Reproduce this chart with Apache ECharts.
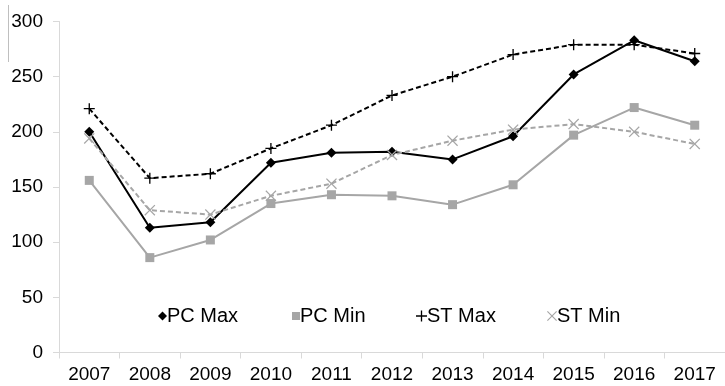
<!DOCTYPE html>
<html>
<head>
<meta charset="utf-8">
<script src="https://cdn.jsdelivr.net/npm/echarts@6/dist/echarts.min.js"></script>
<style>
  html, body { margin: 0; padding: 0; background: #fff; }
  #main { width: 725px; height: 386px; }
</style>
</head>
<body>
<div id="main"></div>
<script>
const years = ['2007', '2008', '2009', '2010', '2011', '2012', '2013', '2014', '2015', '2016', '2017'];
const pcMax = [200, 113, 118, 172, 181, 182, 175, 196, 252, 283, 264];
const pcMin = [156, 86, 102, 135, 143, 142, 134, 152, 197, 222, 206];
const stMax = [221, 158, 162, 185, 206, 233, 250, 270, 279, 279, 271];
const stMin = [194, 129, 125, 142, 153, 179, 192, 202, 207, 200, 189];

const plusIcon = 'path://M4.4,0H5.6V4.4H10V5.6H5.6V10H4.4V5.6H0V4.4H4.4Z';
const crossIcon = 'path://M0.8,0L5,4.2L9.2,0L10,0.8L5.8,5L10,9.2L9.2,10L5,5.8L0.8,10L0,9.2L4.2,5L0,0.8Z';

const font = 'Liberation Sans, Arial, sans-serif';
const black = '#000000';
const grey = '#a6a6a6';
const axisGrey = '#d9d9d9';

const chart = echarts.init(document.getElementById('main'));

function legendAt(name, left, icon, size) {
  return {
    data: [{ name: name, icon: icon }],
    left: left,
    top: 306,
    itemWidth: size,
    itemHeight: size,
    padding: 0,
    textStyle: { fontFamily: font, fontSize: 20, color: '#000', padding: [0, 0, 0, -5] }
  };
}

chart.setOption({
  animation: false,
  grid: { left: 59, right: -8, top: 21.5, bottom: 33.5 },
  legend: [
    legendAt('PC Max', 158, 'diamond', 9),
    legendAt('PC Min', 292, 'rect', 8),
    legendAt('ST Max', 416, plusIcon, 11),
    legendAt('ST Min', 547, crossIcon, 10)
  ],
  graphic: [{
    type: 'line',
    shape: { x1: 8.5, y1: 5, x2: 8.5, y2: 62 },
    style: { stroke: '#bfbfbf', lineWidth: 1 }
  }],
  xAxis: {
    type: 'category',
    data: years,
    boundaryGap: true,
    axisLine: { lineStyle: { color: axisGrey, width: 1 } },
    axisTick: { show: true, length: 6, lineStyle: { color: axisGrey } },
    axisLabel: { fontFamily: font, fontSize: 19, color: '#000', margin: 13 }
  },
  yAxis: {
    type: 'value',
    min: 0,
    max: 300,
    interval: 50,
    axisLine: { show: true, lineStyle: { color: axisGrey, width: 1 } },
    axisTick: { show: true, length: 6, lineStyle: { color: axisGrey } },
    splitLine: { show: false },
    axisLabel: { fontFamily: font, fontSize: 19, color: '#000', margin: 16 }
  },
  series: [
    {
      name: 'PC Max', type: 'line', data: pcMax,
      symbol: 'diamond', symbolSize: 10,
      itemStyle: { color: black },
      lineStyle: { color: black, width: 2 }
    },
    {
      name: 'PC Min', type: 'line', data: pcMin,
      symbol: 'rect', symbolSize: 9,
      itemStyle: { color: grey },
      lineStyle: { color: grey, width: 2 }
    },
    {
      name: 'ST Max', type: 'line', data: stMax,
      symbol: plusIcon, symbolSize: 11,
      itemStyle: { color: black },
      lineStyle: { color: black, width: 2, type: [5, 3] }
    },
    {
      name: 'ST Min', type: 'line', data: stMin,
      symbol: crossIcon, symbolSize: 11,
      itemStyle: { color: grey },
      lineStyle: { color: grey, width: 2, type: [5, 3] }
    }
  ]
});
</script>
</body>
</html>
